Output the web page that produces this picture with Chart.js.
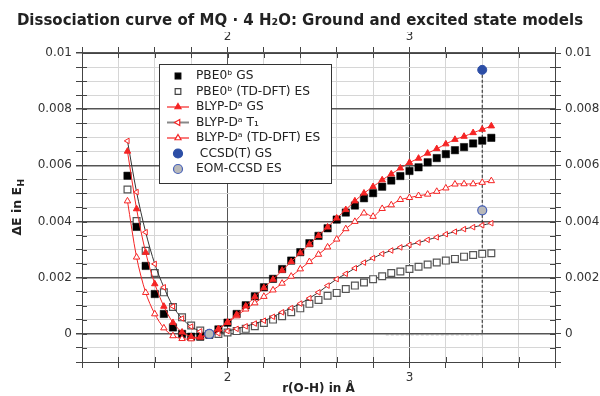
<!DOCTYPE html>
<html>
<head>
<meta charset="utf-8">
<script src="https://cdn.jsdelivr.net/npm/chart.js@4/dist/chart.umd.min.js"></script>
<style>
  html, body { margin: 0; padding: 0; background: #fff; }
  #dissoc { display: block; }
</style>
</head>
<body>
<canvas id="dissoc" width="600" height="396"></canvas>
<script>
// r(O-H) in Angstrom, one point every 0.05
const rOH = [1.45, 1.50, 1.55, 1.60, 1.65, 1.70, 1.75, 1.80, 1.85, 1.90,
  1.95, 2.00, 2.05, 2.10, 2.15, 2.20, 2.25, 2.30, 2.35, 2.40,
  2.45, 2.50, 2.55, 2.60, 2.65, 2.70, 2.75, 2.80, 2.85, 2.90,
  2.95, 3.00, 3.05, 3.10, 3.15, 3.20, 3.25, 3.30, 3.35, 3.40, 3.45];

const pbe0GS = [0.00563, 0.00381, 0.00242, 0.00142, 0.00071, 0.00023, 0.00000, -0.00010, -0.00010, -0.00003,
  0.00016, 0.00040, 0.00071, 0.00102, 0.00134, 0.00166, 0.00196, 0.00231, 0.00261, 0.00291,
  0.00323, 0.00349, 0.00376, 0.00407, 0.00432, 0.00457, 0.00483, 0.00501, 0.00524, 0.00546,
  0.00562, 0.00580, 0.00593, 0.00611, 0.00626, 0.00640, 0.00654, 0.00665, 0.00678, 0.00688, 0.00698];

const pbe0ES = [0.00514, 0.00402, 0.00296, 0.00217, 0.00148, 0.00096, 0.00059, 0.00030, 0.00012, 0.00000,
  0.00000, 0.00005, 0.00010, 0.00018, 0.00027, 0.00039, 0.00051, 0.00063, 0.00077, 0.00091,
  0.00107, 0.00121, 0.00136, 0.00146, 0.00160, 0.00172, 0.00183, 0.00195, 0.00205, 0.00217,
  0.00222, 0.00231, 0.00239, 0.00247, 0.00254, 0.00261, 0.00267, 0.00275, 0.00281, 0.00285, 0.00287];

const blypGS = [0.00650, 0.00445, 0.00290, 0.00178, 0.00098, 0.00040, 0.00006, -0.00010, -0.00012, -0.00003,
  0.00017, 0.00042, 0.00069, 0.00099, 0.00132, 0.00164, 0.00194, 0.00226, 0.00257, 0.00288,
  0.00319, 0.00350, 0.00380, 0.00412, 0.00442, 0.00473, 0.00501, 0.00524, 0.00548, 0.00569,
  0.00590, 0.00610, 0.00625, 0.00643, 0.00659, 0.00676, 0.00692, 0.00703, 0.00716, 0.00728, 0.00740];

const blypT1 = [0.00687, 0.00505, 0.00362, 0.00249, 0.00166, 0.00098, 0.00055, 0.00026, 0.00009, 0.00000,
  0.00002, 0.00010, 0.00018, 0.00027, 0.00037, 0.00047, 0.00061, 0.00077, 0.00092, 0.00108,
  0.00127, 0.00148, 0.00172, 0.00195, 0.00214, 0.00234, 0.00254, 0.00270, 0.00285, 0.00297,
  0.00308, 0.00317, 0.00325, 0.00335, 0.00344, 0.00355, 0.00364, 0.00373, 0.00380, 0.00387, 0.00394];

const blypES = [0.00473, 0.00273, 0.00147, 0.00071, 0.00021, -0.00007, -0.00017, -0.00018, -0.00010, 0.00000,
  0.00018, 0.00040, 0.00064, 0.00088, 0.00110, 0.00133, 0.00156, 0.00180, 0.00205, 0.00231,
  0.00257, 0.00283, 0.00309, 0.00337, 0.00374, 0.00400, 0.00430, 0.00418, 0.00446, 0.00459,
  0.00478, 0.00485, 0.00492, 0.00497, 0.00507, 0.00519, 0.00533, 0.00534, 0.00534, 0.00539, 0.00545];

// coupled cluster reference points
const ccR = [1.90, 3.40];
const ccsdGS = [0.0000, 0.0094];
const eomES = [0.0000, 0.0044];

// dashed guide lines
const guideVR = [3.40, 3.40];
const guideVE = [0.0094, 0.0000];
const guideHR = [2.87, 3.40];
const guideHE = [-0.00003, -0.00003];

const xTicks = [2, 3];
const yTicks = [0, 0.002, 0.004, 0.006, 0.008, 0.01];

const RED = '#f52424';

function pts(xs, ys) {
  return xs.map((x, i) => ({ x: x, y: ys[i] }));
}

function isTick(v, list) {
  return list.some(t => Math.abs(v - t) < 1e-7);
}

function xLabel(v) {
  return isTick(v, xTicks) ? String(Math.round(v)) : '';
}
function yLabel(v) {
  return isTick(v, yTicks) ? String(Number(v.toFixed(4))) : '';
}

function marker(ctx, style, x, y, r, rot) {
  ctx.beginPath();
  if (style === 'rect') {
    ctx.rect(x - r * 0.707, y - r * 0.707, r * 1.414, r * 1.414);
  } else if (style === 'circle') {
    ctx.arc(x, y, r, 0, Math.PI * 2);
  } else {
    ctx.save();
    ctx.translate(x, y);
    ctx.rotate((rot || 0) * Math.PI / 180);
    ctx.moveTo(0, -r);
    ctx.lineTo(r * 0.866, r * 0.5);
    ctx.lineTo(-r * 0.866, r * 0.5);
    ctx.closePath();
    ctx.restore();
  }
}

const legendItems = [
  { text: 'PBE0\u1D47 GS', style: 'rect', r: 4, fill: '#000', stroke: '#000' },
  { text: 'PBE0\u1D47 (TD-DFT) ES', style: 'rect', r: 4, fill: '#fff', stroke: '#444' },
  { text: 'BLYP-D\u1D43 GS', style: 'triangle', r: 3.5, fill: RED, stroke: RED, line: RED },
  { text: 'BLYP-D\u1D43 T\u2081', style: 'triangle', r: 3.5, rot: -90, fill: '#fff', stroke: RED, line: '#888' },
  { text: 'BLYP-D\u1D43 (TD-DFT) ES', style: 'triangle', r: 3.5, fill: '#fff', stroke: RED, line: RED },
  { text: ' CCSD(T) GS', style: 'circle', r: 4.5, fill: '#2c4ea6', stroke: '#2c4ea6' },
  { text: 'EOM-CCSD ES', style: 'circle', r: 4.5, fill: '#b9b9b9', stroke: '#4660b8' }
];

const extras = {
  id: 'extras',
  beforeDatasetsDraw(chart) {
    // inward tick marks on all four sides
    const ctx = chart.ctx;
    const a = chart.chartArea;
    ctx.save();
    ctx.strokeStyle = '#444';
    ctx.lineWidth = 1;
    ctx.beginPath();
    chart.scales.x.ticks.forEach(t => {
      const px = Math.round(chart.scales.x.getPixelForValue(t.value)) + 0.5;
      ctx.moveTo(px, a.bottom); ctx.lineTo(px, a.bottom - 5);
      ctx.moveTo(px, a.top); ctx.lineTo(px, a.top + 5);
    });
    chart.scales.y.ticks.forEach(t => {
      const py = Math.round(chart.scales.y.getPixelForValue(t.value)) + 0.5;
      ctx.moveTo(a.left, py); ctx.lineTo(a.left + 5, py);
      ctx.moveTo(a.right, py); ctx.lineTo(a.right - 5, py);
    });
    ctx.stroke();
    ctx.restore();
  },
  afterDraw(chart) {
    const ctx = chart.ctx;
    const a = chart.chartArea;

    // y axis title with subscript H
    ctx.save();
    ctx.translate(18, (a.top + a.bottom) / 2);
    ctx.rotate(-Math.PI / 2);
    ctx.fillStyle = '#222';
    ctx.textBaseline = 'middle';
    const main = 'ΔE in E';
    ctx.font = 'bold 12.5px "DejaVu Sans"';
    const w1 = ctx.measureText(main).width;
    ctx.font = 'bold 9px "DejaVu Sans"';
    const w2 = ctx.measureText('H').width;
    const x0 = -(w1 + w2) / 2;
    ctx.font = 'bold 12.5px "DejaVu Sans"';
    ctx.fillText(main, x0, 0);
    ctx.font = 'bold 9px "DejaVu Sans"';
    ctx.fillText('H', x0 + w1 + 0.5, 3.5);
    ctx.restore();

    // legend box
    const bx = a.left + 77, by = a.top + 11, bw = 172, bh = 119;
    ctx.save();
    ctx.fillStyle = '#fff';
    ctx.fillRect(bx, by, bw, bh);
    ctx.strokeStyle = '#333';
    ctx.lineWidth = 1;
    ctx.strokeRect(bx + 0.5, by + 0.5, bw, bh);
    ctx.font = '12.2px "DejaVu Sans"';
    ctx.textBaseline = 'middle';
    legendItems.forEach((it, i) => {
      const cy = by + 12 + i * 15.5;
      const cx = bx + 19;
      if (it.line) {
        ctx.strokeStyle = it.line;
        ctx.lineWidth = it.line === '#888' ? 2 : 1.2;
        ctx.beginPath();
        ctx.moveTo(bx + 8, cy); ctx.lineTo(bx + 30, cy);
        ctx.stroke();
      }
      ctx.fillStyle = it.fill;
      ctx.strokeStyle = it.stroke;
      ctx.lineWidth = 1.2;
      marker(ctx, it.style, cx, cy, it.r, it.rot);
      ctx.fill();
      ctx.stroke();
      ctx.fillStyle = '#222';
      ctx.fillText(it.text, bx + 37, cy);
    });
    ctx.restore();
  }
};

function gridColor(c) {
  return c.tick && c.tick.label !== '' ? '#555' : '#d6d6d6';
}

const ctx = document.getElementById('dissoc').getContext('2d');

new Chart(ctx, {
  type: 'line',
  data: {
    datasets: [
      {
        label: 'EOM-CCSD ES', data: pts(ccR, eomES), showLine: false,
        pointStyle: 'circle', pointRadius: 4.5, pointBackgroundColor: '#b9b9b9',
        pointBorderColor: '#4660b8', pointBorderWidth: 1.2
      },
      {
        label: 'CCSD(T) GS', data: pts(ccR, ccsdGS), showLine: false,
        pointStyle: 'circle', pointRadius: 4.5, pointBackgroundColor: '#2c4ea6',
        pointBorderColor: '#2c4ea6', pointBorderWidth: 1
      },
      {
        label: 'BLYP-D GS', data: pts(rOH, blypGS), borderColor: RED, borderWidth: 1,
        tension: 0.3, pointStyle: 'triangle', pointRadius: 3.7,
        pointBackgroundColor: RED, pointBorderColor: RED, pointBorderWidth: 1
      },
      {
        label: 'BLYP-D (TD-DFT) ES', data: pts(rOH, blypES), borderColor: RED, borderWidth: 1,
        tension: 0.3, pointStyle: 'triangle', pointRadius: 3.7,
        pointBackgroundColor: '#fff', pointBorderColor: RED, pointBorderWidth: 1
      },
      {
        label: 'BLYP-D T1', data: pts(rOH, blypT1), borderColor: '#333', borderWidth: 1,
        tension: 0.3, pointStyle: 'triangle', pointRotation: -90, pointRadius: 3.2,
        pointBackgroundColor: '#fff', pointBorderColor: RED, pointBorderWidth: 1
      },
      {
        label: 'PBE0 GS', data: pts(rOH, pbe0GS), showLine: false,
        pointStyle: 'rect', pointRadius: 5.2, pointBackgroundColor: '#000',
        pointBorderColor: '#000', pointBorderWidth: 0.5
      },
      {
        label: 'PBE0 (TD-DFT) ES', data: pts(rOH, pbe0ES), showLine: false,
        pointStyle: 'rect', pointRadius: 4.8, pointBackgroundColor: '#fff',
        pointBorderColor: '#555', pointBorderWidth: 1.2
      },
      {
        label: 'guide v', data: pts(guideVR, guideVE), borderColor: '#222', borderWidth: 1,
        borderDash: [3, 2], pointRadius: 0
      },
      {
        label: 'guide h', data: pts(guideHR, guideHE), borderColor: '#999', borderWidth: 1,
        borderDash: [3, 2], pointRadius: 0
      }
    ]
  },
  options: {
    responsive: false,
    animation: false,
    devicePixelRatio: 1,
    layout: { padding: 0 },
    plugins: {
      legend: { display: false },
      tooltip: { enabled: false },
      title: {
        display: true,
        text: 'Dissociation curve of MQ \u00B7 4 H\u2082O: Ground and excited state models',
        font: { family: 'DejaVu Sans', size: 15, weight: 'bold' },
        color: '#222',
        padding: { top: 12, bottom: 2 }
      }
    },
    scales: {
      x: {
        type: 'linear', position: 'bottom', min: 1.2, max: 3.8,
        ticks: { stepSize: 0.2, autoSkip: false, maxRotation: 0, callback: xLabel,
          font: { family: 'DejaVu Sans', size: 12 }, color: '#333', padding: 3 },
        grid: { color: gridColor, tickColor: '#444', tickLength: 6, lineWidth: 1 },
        border: { color: '#444', width: 1 },
        title: { display: true, text: 'r(O-H) in \u00C5', color: '#222',
          font: { family: 'DejaVu Sans', size: 12, weight: 'bold' }, padding: { top: 0, bottom: 0 } },
        afterFit: s => { s.height = 34; }
      },
      x2: {
        type: 'linear', position: 'top', min: 1.2, max: 3.8,
        ticks: { stepSize: 0.2, autoSkip: false, maxRotation: 0, callback: xLabel,
          font: { family: 'DejaVu Sans', size: 12 }, color: '#333', padding: 3 },
        grid: { drawOnChartArea: false, tickColor: '#444', tickLength: 6 },
        border: { color: '#444', width: 1 },
        afterFit: s => { s.height = 21; }
      },
      y: {
        type: 'linear', position: 'left', min: -0.001, max: 0.01,
        ticks: { stepSize: 0.0005, autoSkip: false, callback: yLabel,
          font: { family: 'DejaVu Sans', size: 12 }, color: '#333', padding: 4 },
        grid: { color: gridColor, tickColor: '#444', tickLength: 6,
          lineWidth: c => (c.tick && c.tick.label !== '' ? 1.5 : 1) },
        border: { color: '#444', width: 1 },
        afterFit: s => { s.width = 82; }
      },
      y2: {
        type: 'linear', position: 'right', min: -0.001, max: 0.01,
        ticks: { stepSize: 0.0005, autoSkip: false, callback: yLabel,
          font: { family: 'DejaVu Sans', size: 12 }, color: '#333', padding: 4 },
        grid: { drawOnChartArea: false, tickColor: '#444', tickLength: 6 },
        border: { color: '#444', width: 1 },
        afterFit: s => { s.width = 45; }
      }
    }
  },
  plugins: [extras]
});
</script>
</body>
</html>
